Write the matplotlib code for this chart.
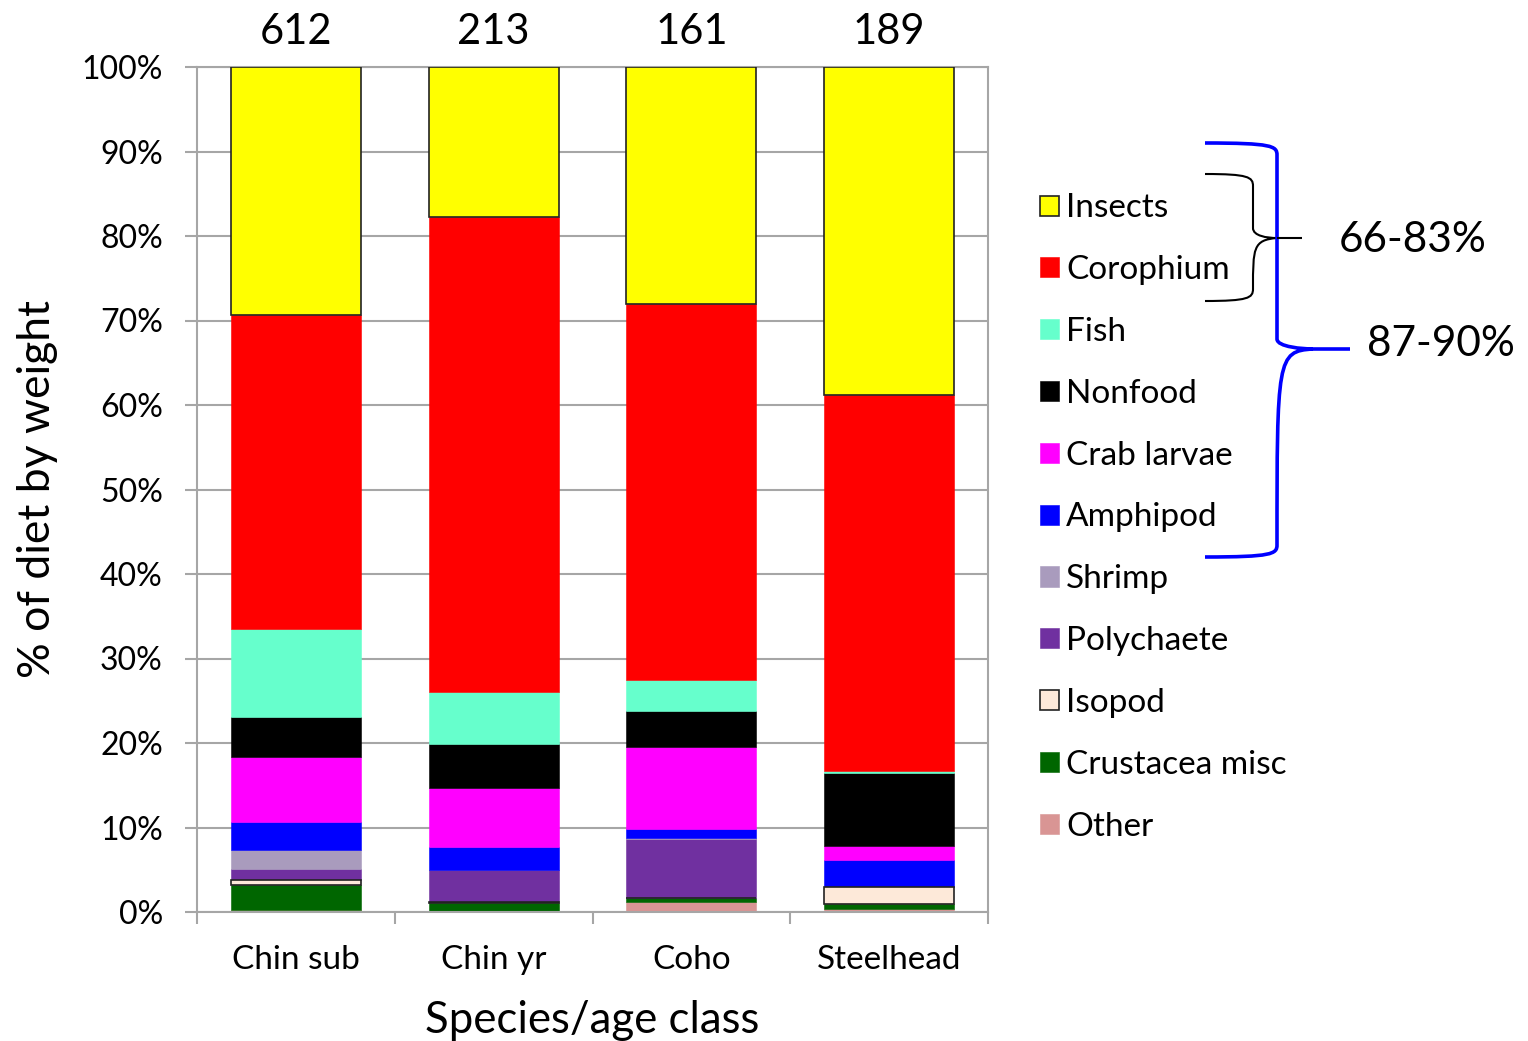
import matplotlib
matplotlib.use("Agg")
import matplotlib.pyplot as plt
from matplotlib.patches import Patch, PathPatch
from matplotlib.path import Path
import numpy as np

plt.rcParams['font.family'] = ['Lato', 'DejaVu Sans']

groups = ["Chin sub", "Chin yr", "Coho", "Steelhead"]
sample_sizes = [612, 213, 161, 189]

# diet components, stacked bottom to top
prey = ["Other", "Crustacea misc", "Isopod", "Polychaete", "Shrimp", "Amphipod",
        "Crab larvae", "Nonfood", "Fish", "Corophium", "Insects"]

other      = [0.2, 0.0, 1.2, 0.3]
crust_misc = [3.0, 1.1, 0.5, 0.7]
isopod     = [0.6, 0.1, 0.0, 1.9]
polychaete = [1.3, 3.8, 6.9, 0.0]
shrimp     = [2.2, 0.0, 0.1, 0.0]
amphipod   = [3.3, 2.7, 1.1, 3.25]
crab       = [7.7, 7.0, 9.7, 1.7]
nonfood    = [4.8, 5.2, 4.3, 8.6]
fish       = [10.4, 6.1, 3.6, 0.25]
corophium  = [37.1, 56.3, 44.6, 44.5]
insects    = [29.4, 17.7, 28.0, 38.8]

series = [other, crust_misc, isopod, polychaete, shrimp, amphipod,
          crab, nonfood, fish, corophium, insects]

colors = {
    "Insects": "#FFFF00", "Corophium": "#FF0000", "Fish": "#66FFCC",
    "Nonfood": "#000000", "Crab larvae": "#FF00FF", "Amphipod": "#0000FF",
    "Shrimp": "#A99BBD", "Polychaete": "#7030A0", "Isopod": "#FDE9D9",
    "Crustacea misc": "#006600", "Other": "#D99594",
}
outlined = {"Insects", "Isopod"}

W, H = 1528, 1041
fig = plt.figure(figsize=(W / 100, H / 100), dpi=100)
ax = fig.add_axes([197 / W, (H - 912) / H, 791 / W, 845 / H])

x = np.arange(len(groups))
bottom = np.zeros(len(groups))
for name, vals in zip(prey, series):
    vals = np.array(vals, dtype=float)
    if name in outlined:
        ax.bar(x, vals, 0.657, bottom=bottom, color=colors[name],
               edgecolor="#222222", linewidth=1.2, zorder=3)
    else:
        ax.bar(x, vals, 0.657, bottom=bottom, color=colors[name],
               edgecolor=colors[name], linewidth=0.4, zorder=2)
    bottom += vals

ax.set_xlim(-0.5, 3.5)
ax.set_ylim(0, 100)
ax.set_yticks(np.arange(0, 101, 10))
ax.set_yticklabels([f"{v}%" for v in range(0, 101, 10)])
ax.yaxis.grid(True, color="#A6A6A6", linewidth=1.5, zorder=0)
ax.set_axisbelow(True)
for s in ax.spines.values():
    s.set_color("#A6A6A6")
    s.set_linewidth(1.5)
ax.tick_params(axis="y", length=8.6, width=1.5, color="#A6A6A6",
               labelsize=23, pad=16, labelcolor="black")
ax.set_xticks(x)
ax.set_xticklabels(groups)
ax.set_xticks(np.arange(-0.5, 4.0, 1.0), minor=True)
ax.tick_params(axis="x", which="major", length=0, labelsize=24, pad=24)
ax.tick_params(axis="x", which="minor", length=8.6, width=1.5, color="#A6A6A6")

ax.set_ylabel("% of diet by weight", fontsize=32, labelpad=17)
ax.set_xlabel("Species/age class", fontsize=31.5, labelpad=18)

for xi, n in zip(x, sample_sizes):
    ax.text(xi, 1.042, str(n), transform=ax.get_xaxis_transform(),
            ha="center", va="center", fontsize=30)

handles = [Patch(facecolor=colors[p], edgecolor=("#222222" if p in outlined else colors[p]),
                 linewidth=1.2 if p in outlined else 0.4) for p in prey[::-1]]
fig.legend(handles, prey[::-1], loc="upper left",
           bbox_to_anchor=(1027 / W, 1 - 180 / H), frameon=False,
           fontsize=24, handlelength=0.55, handleheight=0.55,
           handletextpad=0.22, labelspacing=0.955, borderaxespad=0)

# overlay in pixel coordinates for the braces
ov = fig.add_axes([0, 0, 1, 1], facecolor="none")
ov.set_xlim(0, W)
ov.set_ylim(H, 0)
ov.axis("off")

def brace(x0, xs, xt, xend, y_top, y_mid, y_bot, color, lw):
    verts = [
        (x0, y_top), (xs - 5, y_top), (xs, y_top + 3), (xs, y_top + 12),
        (xs, y_mid - 10),
        (xs, y_mid - 2), (xt - 10, y_mid), (xt, y_mid),
        (xs, y_mid + 2), (xs, y_mid + 10),
        (xs, y_bot - 12),
        (xs, y_bot - 3), (xs - 5, y_bot), (x0, y_bot),
    ]
    codes = [Path.MOVETO, Path.CURVE4, Path.CURVE4, Path.CURVE4,
             Path.LINETO,
             Path.CURVE4, Path.CURVE4, Path.CURVE4,
             Path.CURVE4, Path.CURVE4,
             Path.LINETO,
             Path.CURVE4, Path.CURVE4, Path.CURVE4]
    ov.add_patch(PathPatch(Path(verts, codes), facecolor="none",
                           edgecolor=color, linewidth=lw, capstyle="butt"))
    ov.plot([xt, xend], [y_mid, y_mid], color=color, linewidth=lw,
            solid_capstyle="butt")

brace(1205, 1253, 1277, 1302, 174, 238, 301, "black", 1.5)
brace(1205, 1277, 1313, 1350, 143, 349, 557, "#0000FF", 2.6)

ov.text(1413, 240, "66-83%", ha="center", va="center", fontsize=30.5)
ov.text(1441, 344, "87-90%", ha="center", va="center", fontsize=30.5)

fig.savefig("out.png", dpi=100)
